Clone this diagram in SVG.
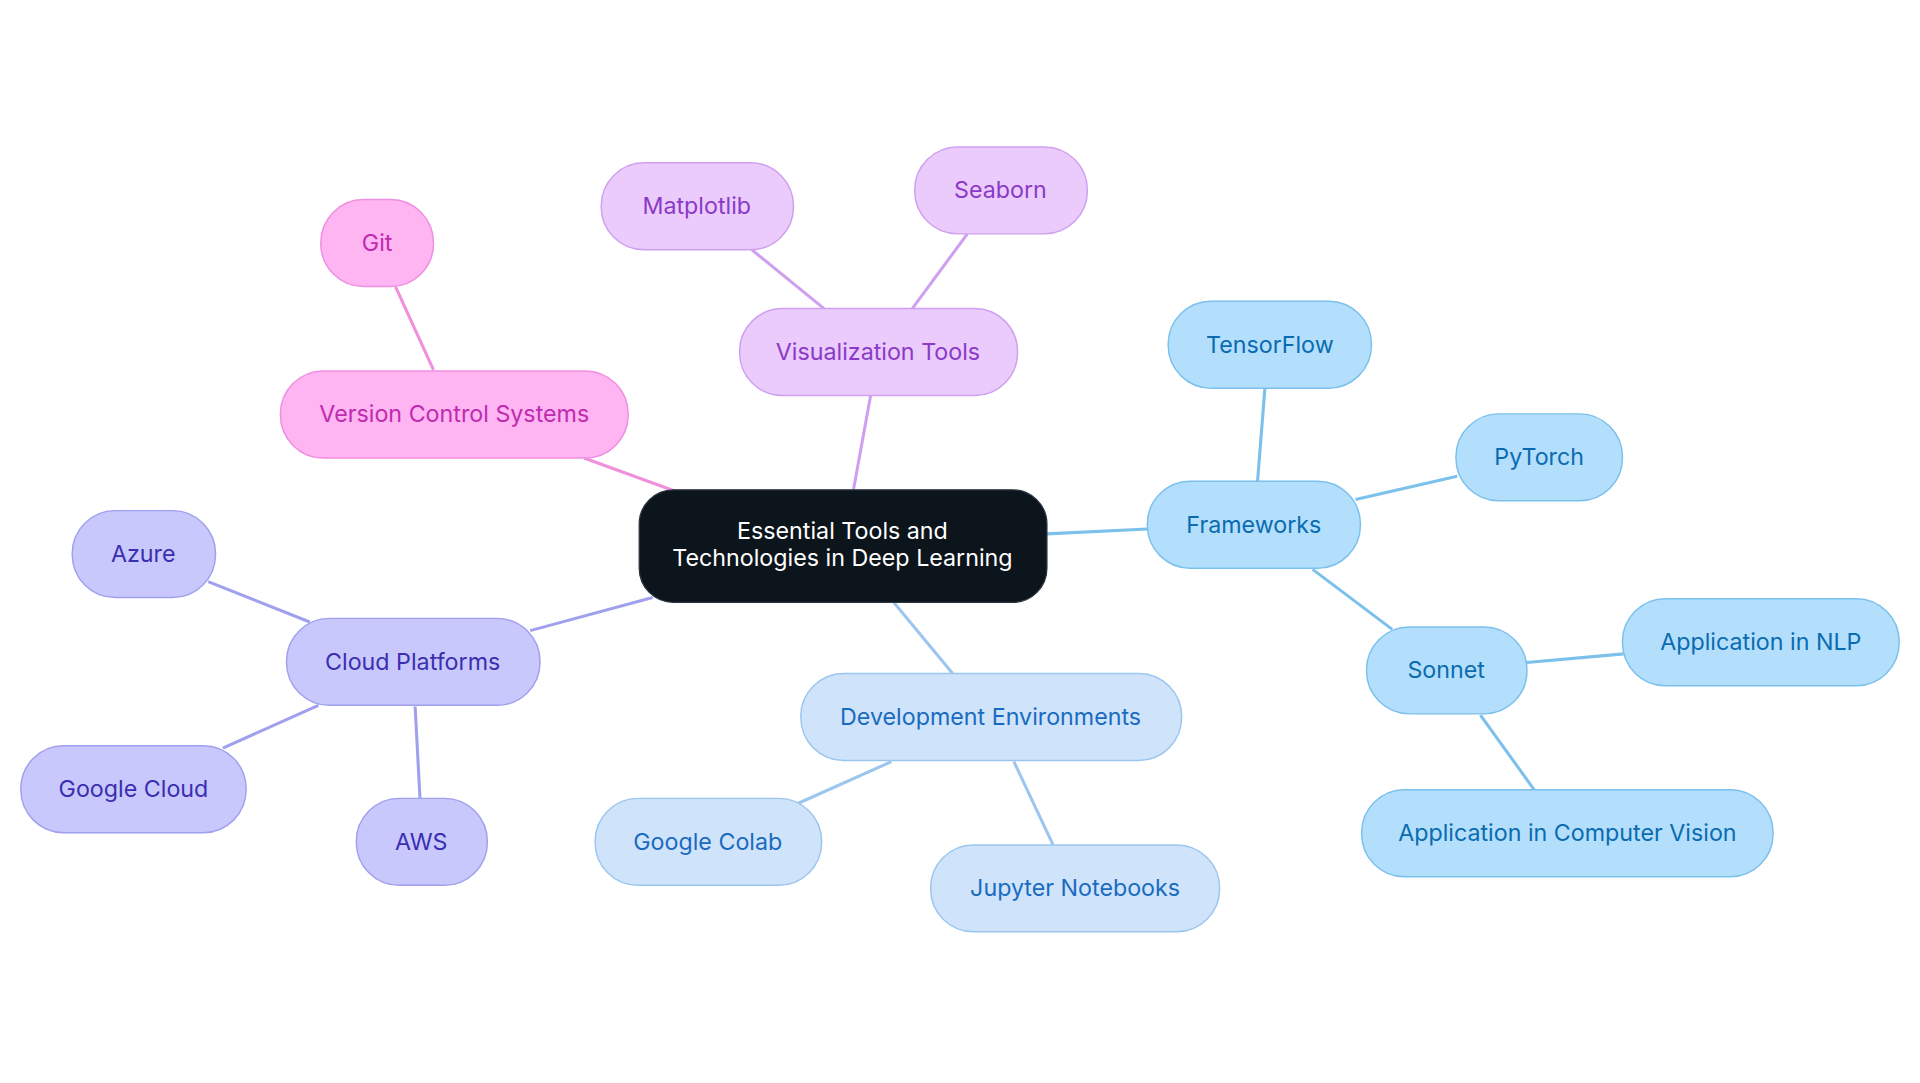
<svg xmlns="http://www.w3.org/2000/svg" width="1920" height="1083" viewBox="0 0 1920 1083">
<style>
text{font-family:Inter,"Liberation Sans",sans-serif;font-size:19px;text-anchor:middle;dominant-baseline:central}
.c line{stroke-width:2.5}
.b rect{fill:#b3dffc;stroke:#7cc0ec;stroke-width:1.2}.b text{fill:#0b6bb0}
.d rect{fill:#cfe4fb;stroke:#9cc6ee;stroke-width:1.2}.d text{fill:#1a6bbf}
.p rect{fill:#c8c8fc;stroke:#a0a0ee;stroke-width:1.2}.p text{fill:#3a2fb0}
.k rect{fill:#feb5f2;stroke:#f08ee0;stroke-width:1.2}.k text{fill:#c02ab0}
.v rect{fill:#eacbfc;stroke:#d0a0f0;stroke-width:1.2}.v text{fill:#8a3ac8}
</style>
<rect width="1920" height="1083" fill="#fff"/>
<g transform="scale(1.2245)">
<g id="connectors" class="c">
<g stroke="#7cc0ec"><line x1="855" y1="436" x2="937" y2="432"/><line x1="1027" y1="393" x2="1033" y2="317"/><line x1="1107" y1="408" x2="1190" y2="389"/><line x1="1072" y1="465" x2="1137" y2="514"/><line x1="1247" y1="541" x2="1326" y2="534"/><line x1="1209" y1="584" x2="1253" y2="645"/></g>
<g stroke="#9cc6ee"><line x1="730" y1="492" x2="778" y2="550"/><line x1="728" y1="622" x2="652" y2="656"/><line x1="828" y1="622" x2="860" y2="690"/></g>
<g stroke="#a0a0ee"><line x1="533" y1="488" x2="433" y2="515"/><line x1="253" y1="508" x2="170" y2="475"/><line x1="260" y1="576" x2="182" y2="611"/><line x1="339" y1="577" x2="343" y2="652"/></g>
<g stroke="#f090dc"><line x1="551" y1="401" x2="477" y2="374"/><line x1="354" y1="302" x2="323" y2="234"/></g>
<g stroke="#d0a0f0"><line x1="697" y1="400" x2="711" y2="323"/><line x1="673" y1="252" x2="614" y2="204"/><line x1="745" y1="252" x2="790" y2="191"/></g>
</g>
<g id="center"><rect x="522" y="400" width="333" height="92" rx="28" fill="#0c141c" stroke="#2a3440"/><text x="688" y="433" fill="#fff">Essential Tools and</text><text x="688" y="455" fill="#fff">Technologies in Deep Learning</text></g>
<g id="frameworks" class="b"><rect x="937" y="393" width="174" height="71" rx="35"/><text x="1024" y="428">Frameworks</text></g>
<g id="tensorflow" class="b"><rect x="954" y="246" width="166" height="71" rx="35"/><text x="1037" y="281">TensorFlow</text></g>
<g id="pytorch" class="b"><rect x="1189" y="338" width="136" height="71" rx="35"/><text x="1257" y="373">PyTorch</text></g>
<g id="sonnet" class="b"><rect x="1116" y="512" width="131" height="71" rx="35"/><text x="1181" y="547">Sonnet</text></g>
<g id="nlp" class="b"><rect x="1325" y="489" width="226" height="71" rx="35"/><text x="1438" y="524">Application in NLP</text></g>
<g id="cv" class="b"><rect x="1112" y="645" width="336" height="71" rx="35"/><text x="1280" y="680">Application in Computer Vision</text></g>
<g id="devenv" class="d"><rect x="654" y="550" width="311" height="71" rx="35"/><text x="809" y="585">Development Environments</text></g>
<g id="colab" class="d"><rect x="486" y="652" width="185" height="71" rx="35"/><text x="578" y="687">Google Colab</text></g>
<g id="jupyter" class="d"><rect x="760" y="690" width="236" height="71" rx="35"/><text x="878" y="725">Jupyter Notebooks</text></g>
<g id="cloud" class="p"><rect x="234" y="505" width="207" height="71" rx="35"/><text x="337" y="540">Cloud Platforms</text></g>
<g id="azure" class="p"><rect x="59" y="417" width="117" height="71" rx="35"/><text x="117" y="452">Azure</text></g>
<g id="gcloud" class="p"><rect x="17" y="609" width="184" height="71" rx="35"/><text x="109" y="644">Google Cloud</text></g>
<g id="aws" class="p"><rect x="291" y="652" width="107" height="71" rx="35"/><text x="344" y="687">AWS</text></g>
<g id="vcs" class="k"><rect x="229" y="303" width="284" height="71" rx="35"/><text x="371" y="338">Version Control Systems</text></g>
<g id="git" class="k"><rect x="262" y="163" width="92" height="71" rx="35"/><text x="308" y="198">Git</text></g>
<g id="vis" class="v"><rect x="604" y="252" width="227" height="71" rx="35"/><text x="717" y="287">Visualization Tools</text></g>
<g id="matplotlib" class="v"><rect x="491" y="133" width="157" height="71" rx="35"/><text x="569" y="168">Matplotlib</text></g>
<g id="seaborn" class="v"><rect x="747" y="120" width="141" height="71" rx="35"/><text x="817" y="155">Seaborn</text></g>
</g>
</svg>
